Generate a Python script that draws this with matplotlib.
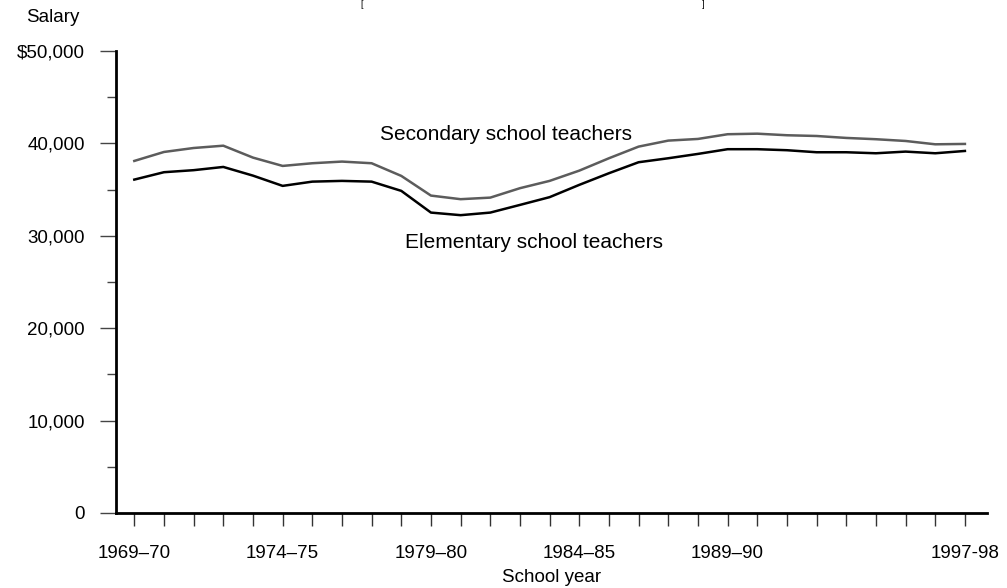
"""
Average teacher salaries, elementary vs. secondary, 1969-70 to 1997-98.
"""

import matplotlib
matplotlib.use("Agg")
import matplotlib.pyplot as plt
from matplotlib.ticker import FuncFormatter, MultipleLocator

plt.rcParams["font.family"] = ["Liberation Sans", "DejaVu Sans"]

# one entry per school year, 1969-70 ... 1997-98
secondary = [
    38100, 39070, 39500, 39750, 38460, 37560, 37850, 38030, 37850, 36480,
    34350, 33960, 34130, 35150, 35940, 37050, 38390, 39650, 40300, 40480,
    40990, 41050, 40880, 40800, 40590, 40450, 40260, 39900, 39940,
]
elementary = [
    36080, 36880, 37100, 37450, 36510, 35400, 35860, 35940, 35860, 34860,
    32510, 32230, 32510, 33340, 34180, 35510, 36770, 37960, 38390, 38860,
    39370, 39370, 39260, 39040, 39040, 38930, 39110, 38930, 39180,
]
# only a few years get a printed label
tick_labels = ["1969–70", "", "", "", "", "1974–75", "", "", "", "",
               "1979–80", "", "", "", "", "1984–85", "", "", "", "",
               "1989–90", "", "", "", "", "", "", "", "1997-98"]


def salary_label(v, pos):
    if v == 50000:
        return "\\$50,000"
    return f"{v:,.0f}"


fig = plt.figure(figsize=(10.07, 5.88), dpi=100)
ax = fig.add_axes([0.1152, 0.1276, 0.8648, 0.7857])

x = list(range(len(secondary)))
ax.plot(x, secondary, color="#5c5c5c", lw=1.8, solid_joinstyle="round")
ax.plot(x, elementary, color="black", lw=1.8, solid_joinstyle="round")

ax.set_xlim(-0.617, 28.74)
ax.set_ylim(0, 50000)

for side in ("top", "right"):
    ax.spines[side].set_visible(False)
for side in ("left", "bottom"):
    ax.spines[side].set_linewidth(2.0)

ax.set_xticks(x)
ax.set_xticklabels(tick_labels, fontsize=13.5)
ax.tick_params(axis="x", direction="out", length=9.4, width=1, color="#333333", pad=13.5)

ax.yaxis.set_major_locator(MultipleLocator(10000))
ax.yaxis.set_minor_locator(MultipleLocator(5000))
ax.yaxis.set_major_formatter(FuncFormatter(salary_label))
ax.tick_params(axis="y", which="major", direction="out", length=11.5, width=1,
               color="#444444", pad=10.8, labelsize=13.5)
ax.tick_params(axis="y", which="minor", direction="out", length=6.5, width=1, color="#444444")

ax.set_xlabel("School year", fontsize=13.5, labelpad=5)

ax.text(8.28, 40910, "Secondary school teachers", fontsize=15, va="center", ha="left")
ax.text(9.12, 29230, "Elementary school teachers", fontsize=15, va="center", ha="left")

fig.text(26 / 1007, 1 - 18 / 588, "Salary", fontsize=13.5, va="center", ha="left")

# small bracket pair at the very top, where the source title was trimmed
fig.text(360 / 1007, 1.0, "[", fontsize=6.5, va="top", ha="left")
fig.text(705 / 1007, 1.0, "]", fontsize=6.5, va="top", ha="right")

fig.savefig("out.png", dpi=100)
